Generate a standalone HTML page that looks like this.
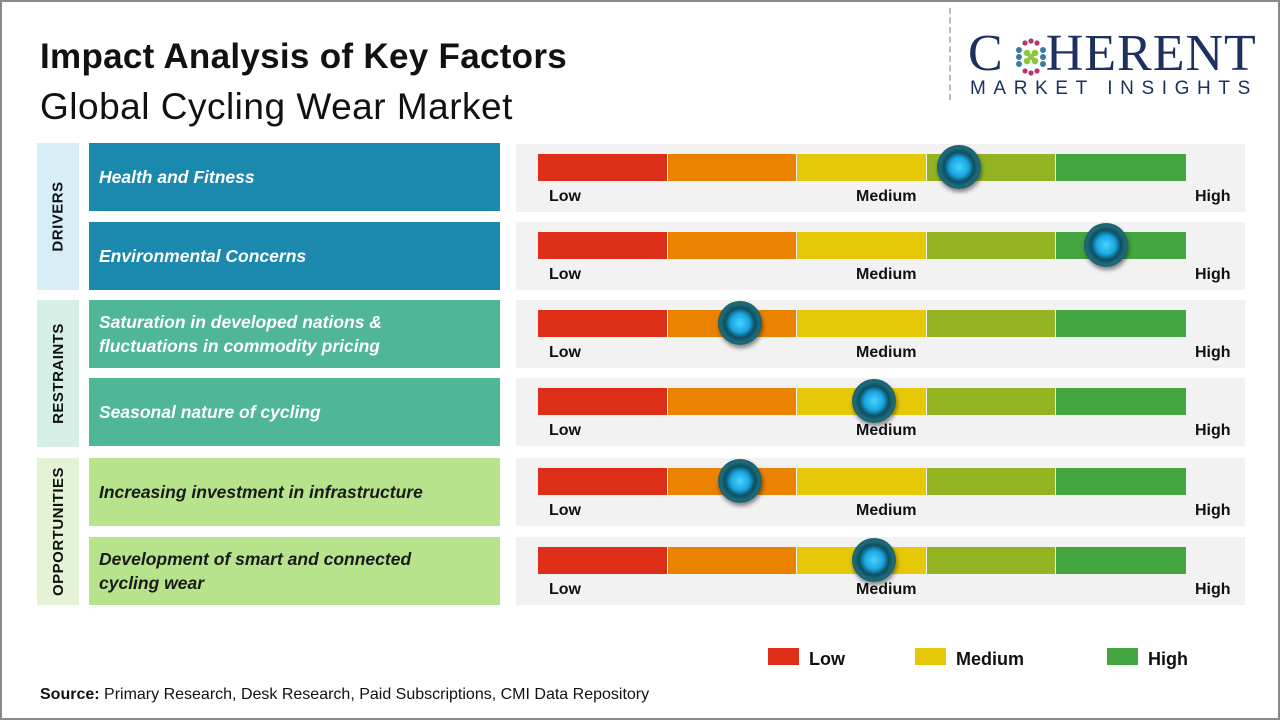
<!DOCTYPE html>
<html><head><meta charset="utf-8"><style>
*{margin:0;padding:0;box-sizing:border-box}
body{width:1280px;height:720px;background:#fff;position:relative;overflow:hidden;font-family:"Liberation Sans",sans-serif}
.frame{position:absolute;left:0;top:0;width:1280px;height:720px;border:2px solid #8a8a8a}
.abs{position:absolute;white-space:nowrap}
.t1{left:40px;top:37px;font-size:35px;font-weight:bold;color:#111;letter-spacing:0.3px}
.t2{left:40px;top:86px;font-size:37px;color:#111;letter-spacing:0.5px}
.cat{position:absolute;left:37px;width:42px;display:flex;align-items:center;justify-content:center}
.cat span{transform:rotate(-90deg);white-space:nowrap;font-weight:bold;font-size:15px;color:#111;letter-spacing:0.5px}
.lab{position:absolute;left:89px;width:411px;height:68px;color:#fff;font-weight:bold;font-style:italic;font-size:17.5px;display:flex;align-items:center;padding-left:10px;line-height:24px}
.panel{position:absolute;left:516px;width:729px;height:68px;background:#f2f2f2}
.seg{position:absolute;top:10px;height:27px}
.pl{position:absolute;top:44px;font-size:16px;font-weight:bold;color:#111}
.knob{position:absolute;width:44px;height:44px;border-radius:50%;background:radial-gradient(circle at 50% 50%,#49d2ff 0,#1aa6e0 30%,#0c4f63 48%,#1f6b7a 62%,#0b3440 100%);box-shadow:1px 3px 4px rgba(0,0,0,.45)}
</style></head><body>
<div class="frame"></div>
<div class="abs t1">Impact Analysis of Key Factors</div>
<div class="abs t2">Global Cycling Wear Market</div>
<div class="abs" style="left:949px;top:8px;height:92px;border-left:2px dashed #bbb"></div>
<div class="abs" style="left:968px;top:28px;font-family:'Liberation Serif',serif;font-size:52px;color:#1c3160;letter-spacing:1px;line-height:52px">C<span style="display:inline-block;width:42px"></span>HERENT</div>
<svg class="abs" style="left:1010px;top:36px" width="42" height="42" viewBox="0 0 42 42">
<g fill="#3b7aa6"><circle cx="9" cy="21" r="3"/><circle cx="33" cy="21" r="3"/><circle cx="9" cy="14" r="3"/><circle cx="33" cy="14" r="3"/><circle cx="9" cy="28" r="3"/><circle cx="33" cy="28" r="3"/></g>
<g fill="#8dc63f"><circle cx="17" cy="17" r="3.3"/><circle cx="25" cy="17" r="3.3"/><circle cx="17" cy="25" r="3.3"/><circle cx="25" cy="25" r="3.3"/><circle cx="21" cy="21" r="3"/></g>
<g fill="#b5366b"><circle cx="15" cy="7" r="2.6"/><circle cx="21" cy="5" r="2.6"/><circle cx="27" cy="7" r="2.6"/><circle cx="15" cy="35" r="2.6"/><circle cx="21" cy="37" r="2.6"/><circle cx="27" cy="35" r="2.6"/></g>
</svg>
<div class="abs" style="left:970px;top:78px;font-size:19px;color:#1c3160;letter-spacing:7.6px">MARKET INSIGHTS</div>

<div class="cat" style="top:143px;height:147px;background:#d7eef7"><span>DRIVERS</span></div>
<div class="cat" style="top:300px;height:147px;background:#d6efe6"><span>RESTRAINTS</span></div>
<div class="cat" style="top:458px;height:147px;background:#e4f3d5"><span>OPPORTUNITIES</span></div>

<div class="lab" style="top:143px;background:#1b89ad">Health and Fitness</div>
<div class="lab" style="top:222px;background:#1b89ad">Environmental Concerns</div>
<div class="lab" style="top:300px;background:#4fb797">Saturation in developed nations &amp;<br>fluctuations in commodity pricing</div>
<div class="lab" style="top:378px;background:#4fb797">Seasonal nature of cycling</div>
<div class="lab" style="top:458px;background:#b6e38c;color:#1a1a1a">Increasing investment in infrastructure</div>
<div class="lab" style="top:537px;background:#b6e38c;color:#1a1a1a">Development of smart and connected<br>cycling wear</div>

<div id="panels"></div>
<script>
var tops=[144,222,300,378,458,537],kx=[959,1106,740,874,740,874];
var cols=['#dd2e18','#ec8300','#e5c807','#93b322','#43a640'];
var h='';
tops.forEach(function(t,i){
 h+='<div class="panel" style="top:'+t+'px">';
 for(var s=0;s<5;s++){h+='<div class="seg" style="left:'+(22+s*129.6)+'px;width:'+(s<4?128.6:129.6)+'px;background:'+cols[s]+'"></div>';}
 h+='<div class="pl" style="left:33px">Low</div><div class="pl" style="left:340px">Medium</div><div class="pl" style="left:679px">High</div></div>';
 h+='<div class="knob" style="left:'+(kx[i]-22)+'px;top:'+(t+1)+'px"></div>';
});
document.getElementById('panels').innerHTML=h;
</script>

<div class="abs" style="left:768px;top:648px;width:31px;height:17px;background:#dd2e18"></div>
<div class="abs" style="left:809px;top:649px;font-size:18px;font-weight:bold;color:#111">Low</div>
<div class="abs" style="left:915px;top:648px;width:31px;height:17px;background:#e5c807"></div>
<div class="abs" style="left:956px;top:649px;font-size:18px;font-weight:bold;color:#111">Medium</div>
<div class="abs" style="left:1107px;top:648px;width:31px;height:17px;background:#43a640"></div>
<div class="abs" style="left:1148px;top:649px;font-size:18px;font-weight:bold;color:#111">High</div>

<div class="abs" style="left:40px;top:686px;font-size:16px;color:#111"><b>Source:</b> Primary Research, Desk Research, Paid Subscriptions, CMI Data Repository</div>
</body></html>
